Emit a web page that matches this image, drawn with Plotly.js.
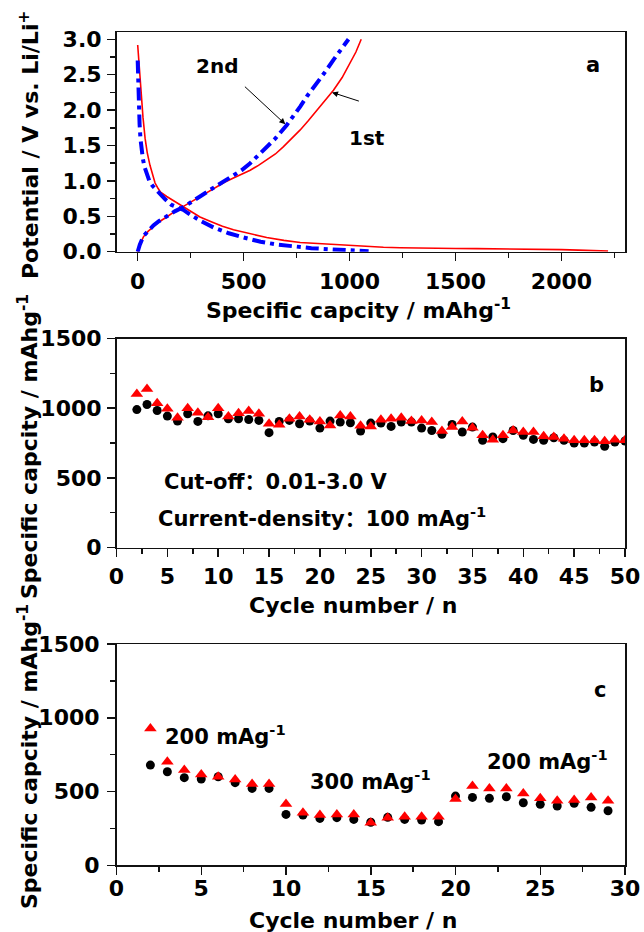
<!DOCTYPE html>
<html>
<head>
<meta charset="utf-8">
<script src="https://cdn.plot.ly/plotly-3.0.1.min.js"></script>
<style>html,body{margin:0;padding:0;background:#fff;}#chart{width:644px;height:932px;}</style>
</head>
<body>
<div id="chart"></div>
<script>
// ---------- Panel a: voltage profiles ----------
const dis1Cap = [0, 4, 8, 12, 18, 25, 35, 45, 58, 70, 82, 95, 108, 137, 170, 200, 250, 294, 350, 400, 452, 530, 609, 690, 767, 850, 924, 1000, 1082, 1160, 1239, 1320, 1400, 1500, 1600, 1700, 1800, 1900, 2000, 2080, 2150, 2220];
const dis1Pot = [2.92, 2.75, 2.6, 2.4, 2.15, 1.9, 1.6, 1.4, 1.22, 1.08, 0.97, 0.9, 0.84, 0.78, 0.72, 0.66, 0.57, 0.49, 0.42, 0.36, 0.31, 0.25, 0.2, 0.16, 0.13, 0.115, 0.1, 0.085, 0.072, 0.062, 0.055, 0.05, 0.047, 0.045, 0.044, 0.043, 0.04, 0.036, 0.03, 0.022, 0.015, 0.01];
const chg1Cap = [0, 10, 27, 50, 74, 100, 137, 175, 216, 255, 294, 335, 373, 410, 452, 490, 531, 570, 609, 650, 687, 725, 767, 805, 846, 885, 924, 965, 1003, 1030, 1055];
const chg1Pot = [0, 0.1, 0.21, 0.29, 0.35, 0.42, 0.49, 0.57, 0.64, 0.71, 0.78, 0.85, 0.92, 0.98, 1.04, 1.09, 1.15, 1.22, 1.3, 1.38, 1.48, 1.59, 1.72, 1.85, 2.0, 2.14, 2.28, 2.46, 2.66, 2.82, 3.0];
const dis2Cap = [0, 1, 2, 4, 6, 9, 13, 18, 24, 32, 42, 55, 70, 85, 105, 130, 160, 190, 216, 250, 300, 360, 430, 500, 580, 660, 740, 820, 900, 980, 1040, 1090];
const dis2Pot = [2.7, 2.55, 2.4, 2.2, 2.0, 1.8, 1.6, 1.45, 1.32, 1.2, 1.1, 1.0, 0.93, 0.88, 0.83, 0.74, 0.66, 0.62, 0.59, 0.52, 0.43, 0.34, 0.26, 0.2, 0.14, 0.1, 0.07, 0.05, 0.035, 0.02, 0.012, 0.008];
const chg2Cap = [0, 10, 27, 50, 74, 100, 137, 175, 216, 255, 294, 335, 373, 410, 452, 490, 531, 570, 609, 650, 704, 740, 767, 800, 846, 885, 924, 960, 995];
const chg2Pot = [0, 0.1, 0.22, 0.3, 0.37, 0.43, 0.5, 0.57, 0.63, 0.7, 0.78, 0.86, 0.93, 1.0, 1.07, 1.15, 1.25, 1.36, 1.48, 1.6, 1.79, 1.93, 2.05, 2.2, 2.38, 2.54, 2.71, 2.86, 3.0];

// ---------- Panel b: cycling at 100 mA/g ----------
const cyclesB = [2,3,4,5,6,7,8,9,10,11,12,13,14,15,16,17,18,19,20,21,22,23,24,25,26,27,28,29,30,31,32,33,34,35,36,37,38,39,40,41,42,43,44,45,46,47,48,49,50];
const circleB = [990,1026,983,943,907,960,905,945,960,924,924,919,912,824,905,912,888,907,857,907,900,895,836,893,893,869,900,900,857,840,812,883,829,864,769,793,781,840,805,776,769,788,769,750,750,757,726,757,764];
const triangleB = [1102,1138,1036,995,931,1000,967,935,1000,940,964,979,960,888,881,924,940,917,905,876,948,940,874,869,917,924,931,907,912,900,836,864,905,860,805,774,805,840,829,829,798,793,781,769,769,769,762,774,769];

// ---------- Panel c: rate capability ----------
const cyclesC = [2,3,4,5,6,7,8,9,10,11,12,13,14,15,16,17,18,19,20,21,22,23,24,25,26,27,28,29];
const circleC = [679,634,594,585,600,560,521,521,345,341,318,323,311,292,325,311,307,296,469,460,454,465,424,413,402,420,393,370];
const triangleC = [928,702,646,616,600,582,551,551,415,356,341,345,345,289,323,329,329,329,449,537,521,521,487,454,438,442,460,438];

const F = "DejaVu Sans, Noto Sans CJK SC, sans-serif";
const tickFont = {family: F, size: 22, color: '#000', weight: 'bold'};
const annFont = {family: F, size: 21, color: '#000', weight: 'bold'};
const titleFont = {family: F, size: 22, color: '#000', weight: 'bold'};

const traces = [
  {x: dis1Cap, y: dis1Pot, xaxis: 'x', yaxis: 'y', mode: 'lines', line: {color: '#ff0000', width: 1.6}, name: '1st discharge'},
  {x: chg1Cap, y: chg1Pot, xaxis: 'x', yaxis: 'y', mode: 'lines', line: {color: '#ff0000', width: 1.6}, name: '1st charge'},
  {x: dis2Cap, y: dis2Pot, xaxis: 'x', yaxis: 'y', mode: 'lines', line: {color: '#0000ff', width: 4, dash: '13px,5px,4px,5px'}, name: '2nd discharge'},
  {x: chg2Cap, y: chg2Pot, xaxis: 'x', yaxis: 'y', mode: 'lines', line: {color: '#0000ff', width: 4, dash: '13px,5px,4px,5px'}, name: '2nd charge'},
  {x: cyclesB, y: circleB, xaxis: 'x2', yaxis: 'y2', mode: 'markers', marker: {symbol: 'circle', size: 9, color: '#000'}},
  {x: cyclesB, y: triangleB, xaxis: 'x2', yaxis: 'y2', mode: 'markers', marker: {symbol: 'triangle-up', size: 11, color: '#ff0000'}},
  {x: cyclesC, y: circleC, xaxis: 'x3', yaxis: 'y3', mode: 'markers', marker: {symbol: 'circle', size: 9, color: '#000'}},
  {x: cyclesC, y: triangleC, xaxis: 'x3', yaxis: 'y3', mode: 'markers', marker: {symbol: 'triangle-up', size: 11, color: '#ff0000'}}
];

const W = 644, H = 932;
const xDom = [116.5 / W, 625 / W];
function yDom(topPx, botPx) { return [(H - botPx) / H, (H - topPx) / H]; }

function axis(extra) {
  return Object.assign({
    showline: true, mirror: true, linecolor: '#111', linewidth: 1.5,
    ticks: 'outside', ticklen: 8, tickwidth: 1.5, tickcolor: '#111',
    showgrid: false, zeroline: false, tickfont: tickFont, fixedrange: true
  }, extra);
}

const layout = {
  width: W, height: H,
  margin: {l: 0, r: 0, t: 0, b: 0},
  paper_bgcolor: '#fff', plot_bgcolor: '#fff',
  showlegend: false,
  font: {family: F, color: '#000'},
  xaxis: axis({domain: xDom, anchor: 'y', range: [-100, 2300], tick0: 0, dtick: 500, ticklabelstandoff: 1,
    minor: {dtick: 250, ticks: 'outside', ticklen: 5, tickwidth: 1.5, tickcolor: '#111', showgrid: false}}),
  yaxis: axis({domain: yDom(32.2, 251.7), anchor: 'x', range: [0, 3.1], tick0: 0, dtick: 0.5, tickformat: '.1f', ticklabelstandoff: 1,
    minor: {dtick: 0.25, ticks: 'outside', ticklen: 5, tickwidth: 1.5, tickcolor: '#111', showgrid: false}}),
  xaxis2: axis({domain: xDom, anchor: 'y2', range: [0, 50], tick0: 0, dtick: 5, ticklabelstandoff: 1,
    minor: {dtick: 2.5, ticks: 'outside', ticklen: 5, tickwidth: 1.5, tickcolor: '#111', showgrid: false}}),
  yaxis2: axis({domain: yDom(338.5, 547.5), anchor: 'x2', range: [0, 1500], tick0: 0, dtick: 500, ticklabelstandoff: 1,
    minor: {dtick: 250, ticks: 'outside', ticklen: 5, tickwidth: 1.5, tickcolor: '#111', showgrid: false}}),
  xaxis3: axis({domain: xDom, anchor: 'y3', range: [0, 30], tick0: 0, dtick: 5, ticklabelstandoff: -5,
    minor: {dtick: 2.5, ticks: 'outside', ticklen: 5, tickwidth: 1.5, tickcolor: '#111', showgrid: false}}),
  yaxis3: axis({domain: yDom(644, 865.3), anchor: 'x3', range: [0, 1500], tick0: 0, dtick: 500, ticklabelstandoff: 3,
    minor: {dtick: 250, ticks: 'outside', ticklen: 5, tickwidth: 1.5, tickcolor: '#111', showgrid: false}}),
  annotations: [
    // axis titles
    {xref: 'paper', yref: 'paper', x: 29 / W, y: (H - 145) / H, text: 'Potential / V vs. Li/Li<sup>+</sup>', textangle: -90, showarrow: false, font: titleFont, xanchor: 'center', yanchor: 'middle'},
    {xref: 'paper', yref: 'paper', x: 358 / W, y: (H - 309) / H, text: 'Specific capcity / mAhg<sup>-1</sup>', showarrow: false, font: titleFont, xanchor: 'center', yanchor: 'middle'},
    {xref: 'paper', yref: 'paper', x: 28 / W, y: (H - 447) / H, text: 'Specific capcity / mAhg<sup>-1</sup>', textangle: -90, showarrow: false, font: titleFont, xanchor: 'center', yanchor: 'middle'},
    {xref: 'paper', yref: 'paper', x: 353 / W, y: (H - 605) / H, text: 'Cycle number / n', showarrow: false, font: titleFont, xanchor: 'center', yanchor: 'middle'},
    {xref: 'paper', yref: 'paper', x: 28 / W, y: (H - 757) / H, text: 'Specific capcity / mAhg<sup>-1</sup>', textangle: -90, showarrow: false, font: titleFont, xanchor: 'center', yanchor: 'middle'},
    {xref: 'paper', yref: 'paper', x: 353 / W, y: (H - 920) / H, text: 'Cycle number / n', showarrow: false, font: titleFont, xanchor: 'center', yanchor: 'middle'},
    // panel a labels
    {xref: 'x', yref: 'y', x: 2150, y: 2.63, text: 'a', showarrow: false, font: annFont},
    {xref: 'x', yref: 'y', x: 372, y: 2.62, text: '2nd', showarrow: false, font: {family: F, size: 20, color: '#000', weight: 'bold'}},
    {xref: 'x', yref: 'y', x: 1080, y: 1.61, text: '1st', showarrow: false, font: {family: F, size: 20, color: '#000', weight: 'bold'}},
    {xref: 'x', yref: 'y', axref: 'x', ayref: 'y', x: 697, y: 1.8, ax: 499, ay: 2.35, text: '', showarrow: true, arrowhead: 2, arrowsize: 1.2, arrowwidth: 1, arrowcolor: '#000'},
    {xref: 'x', yref: 'y', axref: 'x', ayref: 'y', x: 917, y: 2.25, ax: 1051, ay: 2.12, text: '', showarrow: true, arrowhead: 2, arrowsize: 1.2, arrowwidth: 1, arrowcolor: '#000'},
    // panel b labels
    {xref: 'x2', yref: 'y2', x: 47.2, y: 1166, text: 'b', showarrow: false, font: annFont},
    {xref: 'x2', yref: 'y2', x: 4.43, y: 472, text: 'Cut-off：0.01-3.0 V', showarrow: false, font: annFont, xanchor: 'left', yanchor: 'middle'},
    {xref: 'x2', yref: 'y2', x: 3.9, y: 220, text: 'Current-density：100 mAg<sup>-1</sup>', showarrow: false, font: annFont, xanchor: 'left', yanchor: 'middle'},
    // panel c labels
    {xref: 'x3', yref: 'y3', x: 28.5, y: 1186, text: 'c', showarrow: false, font: annFont},
    {xref: 'x3', yref: 'y3', x: 2.74, y: 885, text: '200 mAg<sup>-1</sup>', showarrow: false, font: annFont, xanchor: 'left', yanchor: 'middle'},
    {xref: 'x3', yref: 'y3', x: 11.3, y: 578, text: '300 mAg<sup>-1</sup>', showarrow: false, font: annFont, xanchor: 'left', yanchor: 'middle'},
    {xref: 'x3', yref: 'y3', x: 21.76, y: 716, text: '200 mAg<sup>-1</sup>', showarrow: false, font: annFont, xanchor: 'left', yanchor: 'middle'}
  ]
};

Plotly.newPlot('chart', traces, layout, {staticPlot: true, displayModeBar: false});
</script>
</body>
</html>
